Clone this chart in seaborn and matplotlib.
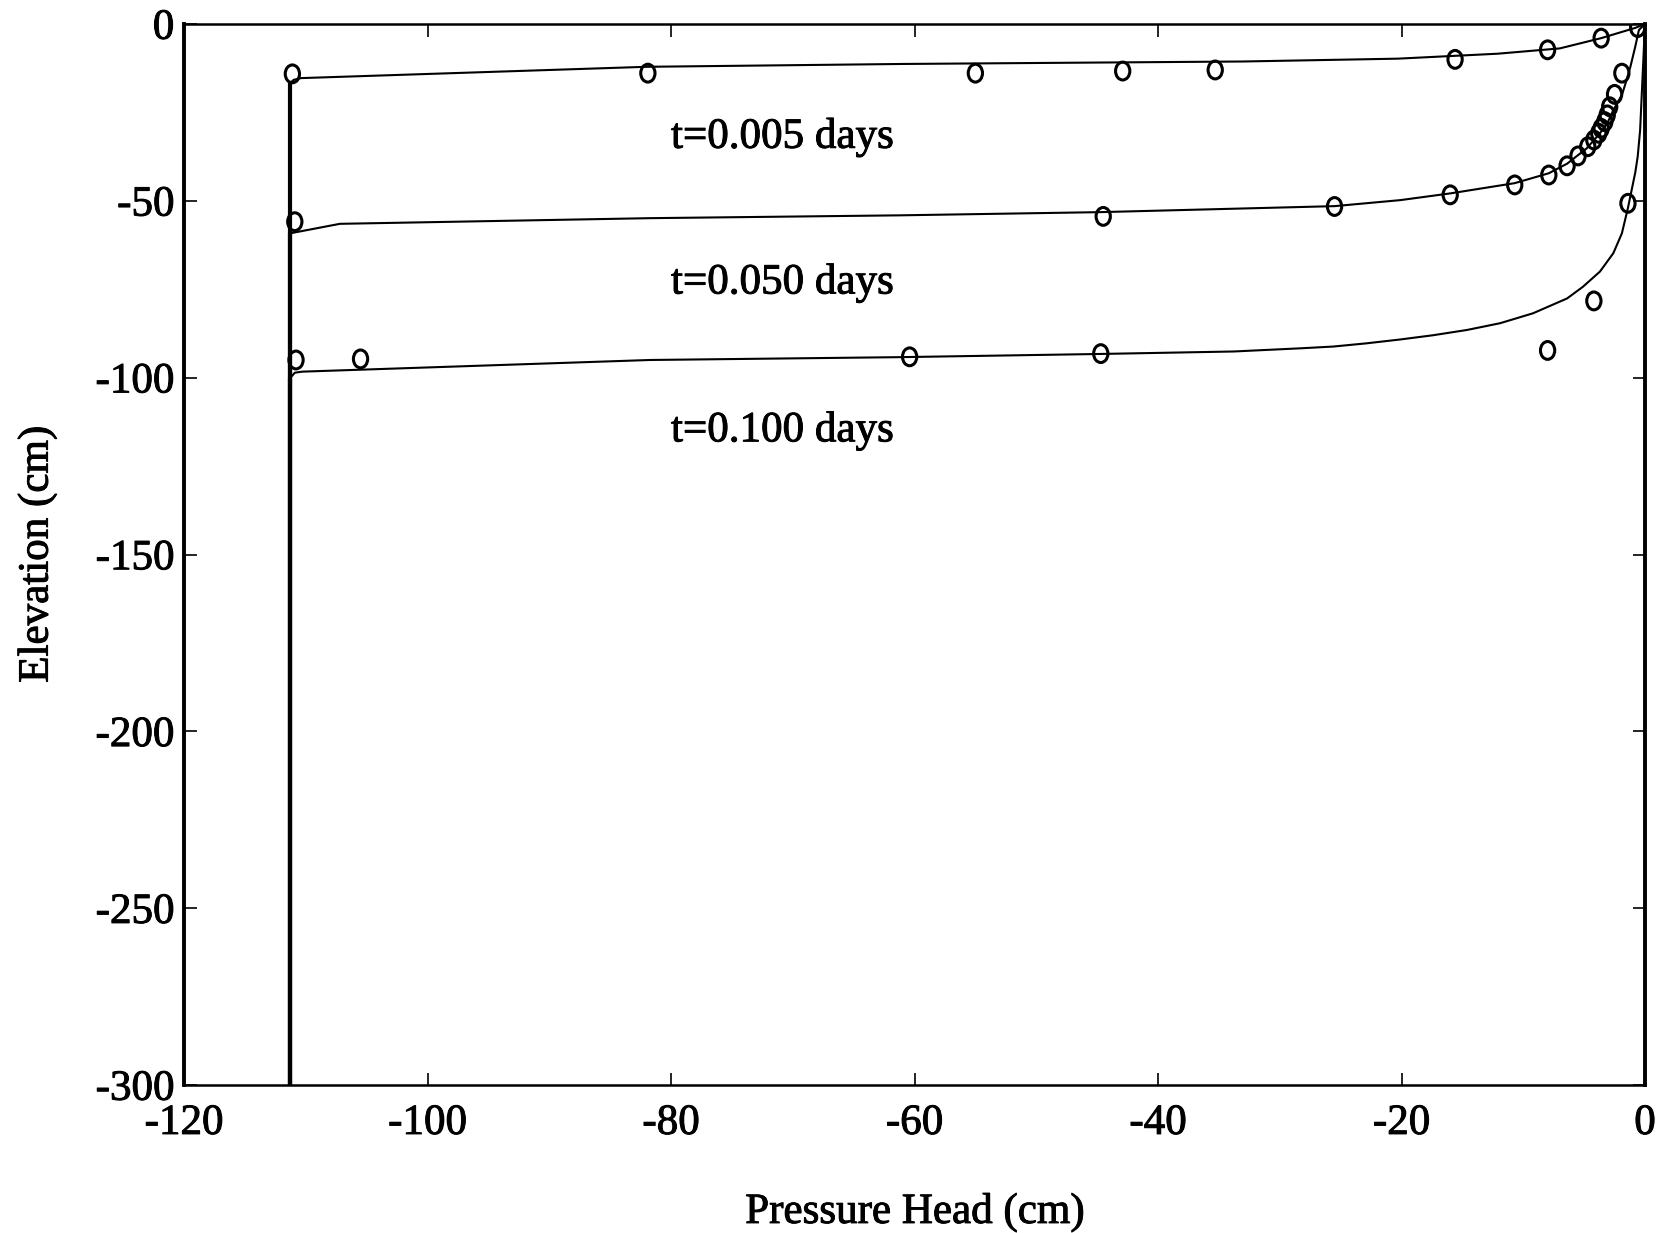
import numpy as np
import pandas as pd
import matplotlib
matplotlib.use("Agg")
import matplotlib.pyplot as plt
import matplotlib.patheffects as pe
import seaborn as sns
from matplotlib.path import Path
from matplotlib.transforms import Affine2D

# ---- simulated profiles (solid lines): pressure head (cm) vs elevation (cm)
t005_line_h = [-111.3, -111.3, -111.0, -110.4, -82.0, -61.0, -33.0, -20.3, -12.1, -7.0, -3.6, -0.8, 0.0]
t005_line_z = [-300.0, -16.8, -15.8, -15.3, -12.1, -11.3, -10.6, -9.8, -8.4, -6.9, -4.0, -1.1, 0.0]

t050_line_h = [-111.3, -111.3, -107.2, -81.7, -61.2, -44.8, -25.5, -20.1, -16.0, -10.7, -7.9, -6.4, -4.8,
               -3.7, -3.1, -2.6, -1.9, -1.6, -1.2, -0.8, -0.5, 0.0]
t050_line_z = [-300.0, -59.2, -56.5, -54.9, -54.1, -53.2, -51.5, -49.8, -47.9, -45.0, -42.2, -39.5, -35.2,
               -30.9, -28.1, -24.3, -20.1, -16.8, -12.1, -6.4, -1.7, 0.0]

t100_line_h = [-111.3, -111.3, -110.9, -110.3, -81.7, -61.2, -44.8, -33.8, -28.3, -25.6, -22.9, -20.1,
               -17.4, -14.6, -11.9, -9.2, -6.4, -5.1, -3.7, -2.6, -1.9, -1.4, -1.1, -0.8, -0.6, -0.4, 0.0]
t100_line_z = [-300.0, -100.2, -98.6, -98.3, -95.0, -94.2, -93.3, -92.6, -91.7, -91.2, -90.3, -89.2,
               -88.0, -86.5, -84.6, -81.8, -77.6, -74.3, -70.0, -64.8, -59.2, -52.0, -47.0, -42.0, -37.5,
               -30.0, 0.0]

# ---- measured values (circles)
t005_obs_h = [-111.1, -81.9, -55.0, -42.9, -35.3, -15.6, -8.0, -3.6, -0.6]
t005_obs_z = [-14.1, -13.9, -13.9, -13.3, -13.0, -10.0, -7.3, -4.0, -1.0]

t050_obs_h = [-110.9, -44.5, -25.5, -16.0, -10.7, -7.9, -6.4, -5.5, -4.7, -4.2, -3.8, -3.6, -3.3, -3.1,
              -2.9, -2.5, -1.9]
t050_obs_z = [-55.9, -54.4, -51.6, -48.3, -45.5, -42.7, -40.1, -37.3, -34.7, -32.8, -30.9, -29.5, -27.6,
              -25.7, -23.4, -19.9, -13.9]

t100_obs_h = [-110.8, -105.5, -60.4, -44.7, -8.0, -4.2, -1.4]
t100_obs_z = [-95.0, -94.7, -94.1, -93.2, -92.3, -78.3, -50.7]

labels = ["t=0.005 days", "t=0.050 days", "t=0.100 days"]
label_h = [-80.0, -80.0, -80.0]
label_z = [-35.0, -76.2, -118.0]

x_ticks = [-120, -100, -80, -60, -40, -20, 0]
y_ticks = [0, -50, -100, -150, -200, -250, -300]

# ---- styling
sns.set_theme(style="ticks")
plt.rcParams["font.family"] = ["Liberation Serif", "DejaVu Serif"]
plt.rcParams["axes.unicode_minus"] = False
plt.rcParams["xtick.direction"] = "in"
plt.rcParams["ytick.direction"] = "in"
plt.rcParams["text.color"] = "black"
plt.rcParams["axes.labelcolor"] = "black"
plt.rcParams["xtick.color"] = "black"
plt.rcParams["ytick.color"] = "black"

FS = 31
heavy = [pe.withStroke(linewidth=0.7, foreground="black")]

fig = plt.figure(figsize=(16.8, 12.33), dpi=100)
ax = fig.add_axes([184 / 1680, 1 - 1085 / 1233, (1645 - 184) / 1680, (1085 - 24) / 1233])

lines = pd.concat([
    pd.DataFrame({"h": t005_line_h, "z": t005_line_z, "t": labels[0]}),
    pd.DataFrame({"h": t050_line_h, "z": t050_line_z, "t": labels[1]}),
    pd.DataFrame({"h": t100_line_h, "z": t100_line_z, "t": labels[2]}),
], ignore_index=True)
obs = pd.concat([
    pd.DataFrame({"h": t005_obs_h, "z": t005_obs_z, "t": labels[0]}),
    pd.DataFrame({"h": t050_obs_h, "z": t050_obs_z, "t": labels[1]}),
    pd.DataFrame({"h": t100_obs_h, "z": t100_obs_z, "t": labels[2]}),
], ignore_index=True)

black = {lab: "black" for lab in labels}

sns.lineplot(data=lines, x="h", y="z", hue="t", palette=black, sort=False, estimator=None,
             linewidth=1.5, legend=False, ax=ax)

# the dry-zone segments (initial head below each front) print heavier
for lh, lz in [(t005_line_h, t005_line_z), (t050_line_h, t050_line_z), (t100_line_h, t100_line_z)]:
    ax.plot(lh[:2], lz[:2], color="black", linewidth=3.0, solid_capstyle="butt")

oval = Path.unit_circle().transformed(Affine2D().scale(0.8, 1.0))
sns.scatterplot(data=obs, x="h", y="z", marker=oval, s=165, facecolor="none", edgecolor="black",
                linewidth=2.2, legend=False, ax=ax, zorder=3)

for txt, hx, zy in zip(labels, label_h, label_z):
    ax.text(hx, zy, txt, fontsize=FS, ha="left", va="baseline", color="black", path_effects=heavy)

ax.set_xlim(-120, 0)
ax.set_ylim(-300, 0)
ax.set_xticks(x_ticks)
ax.set_yticks(y_ticks)
ax.set_xticklabels([str(v) for v in x_ticks])
ax.set_yticklabels([str(v) for v in y_ticks])
ax.tick_params(axis="both", which="major", labelsize=FS, length=9, width=1.2, colors="black",
               top=True, right=True)
ax.tick_params(axis="x", pad=14)
ax.tick_params(axis="y", pad=7)
for lab in ax.get_xticklabels() + ax.get_yticklabels():
    lab.set_path_effects(heavy)

ax.set_xlabel("Pressure Head (cm)", fontsize=FS, labelpad=36, color="black", path_effects=heavy)
ax.set_ylabel("Elevation (cm)", fontsize=FS, labelpad=28, color="black", path_effects=heavy)

for side in ["left", "right"]:
    ax.spines[side].set_linewidth(2.8)
for side in ["top", "bottom"]:
    ax.spines[side].set_linewidth(1.8)
for sp in ax.spines.values():
    sp.set_color("black")
    sp.set_visible(True)

fig.savefig("out.png", dpi=100, facecolor="white")
